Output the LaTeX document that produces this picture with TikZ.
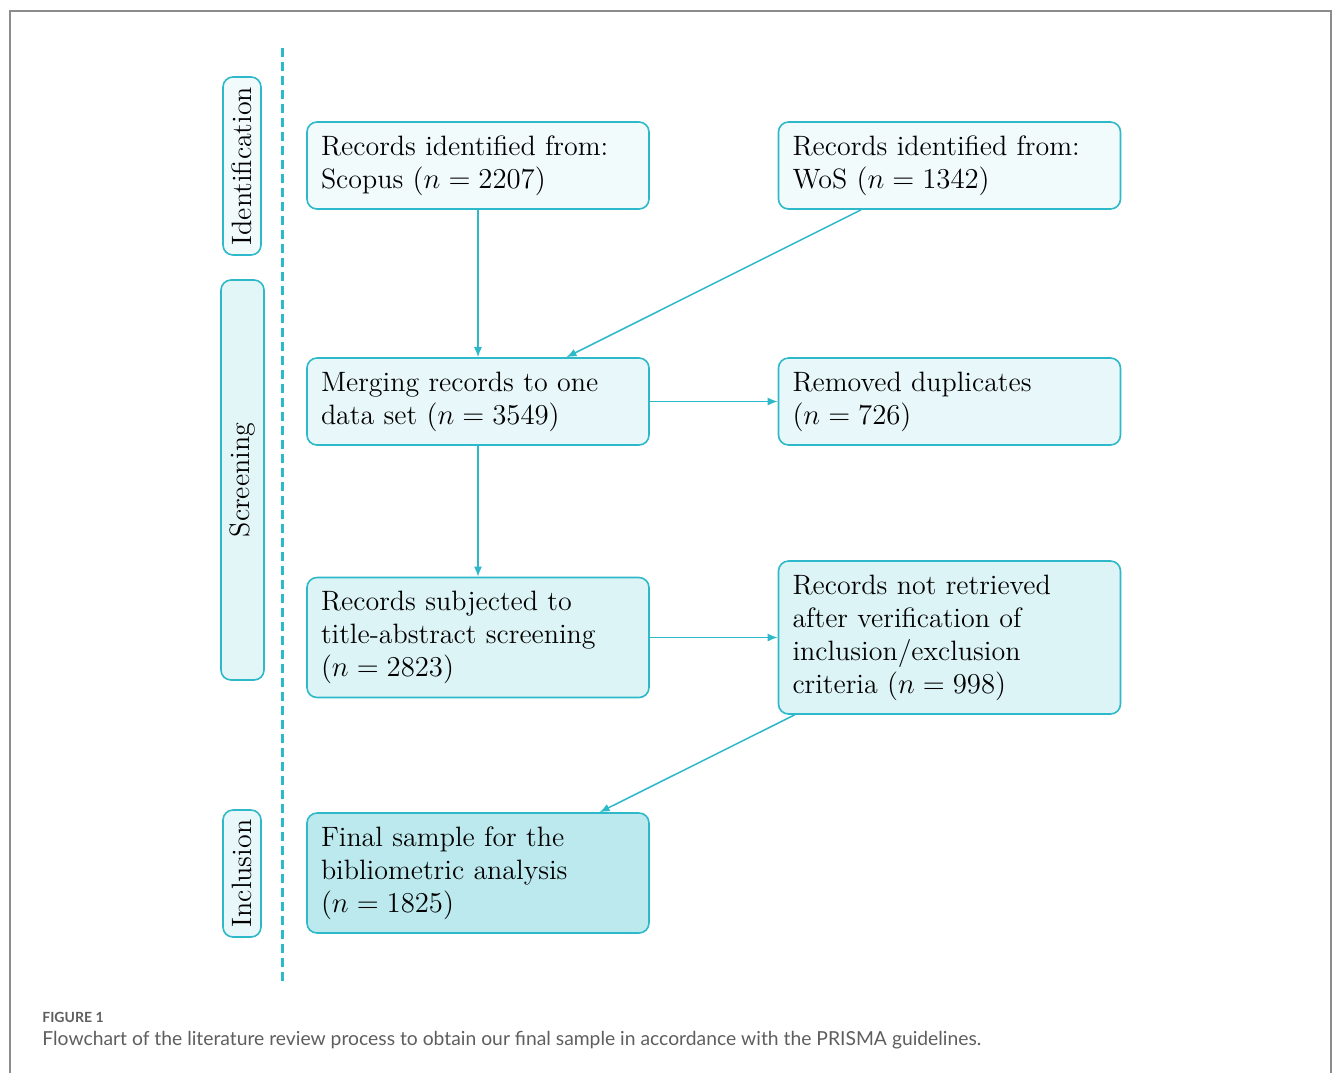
\documentclass[tikz,border=0pt]{standalone}
\usepackage{amsmath}
\usepackage{fontspec}
\usepackage{tikz}
\usetikzlibrary{arrows.meta, positioning, calc}
\newfontfamily\captionfont{Lato}
\definecolor{prismacyan}{HTML}{2DB9C9}
\definecolor{framegrey}{HTML}{8C8C8C}
\definecolor{captiongrey}{HTML}{5E5E5E}

\begin{document}
\begin{tikzpicture}[x=0.5pt, y=-0.5pt,
    boxtext/.style={font=\fontsize{14}{16.5}\selectfont},
    stagebox/.style={boxtext, draw=prismacyan, line width=0.8pt, rounded corners=5pt,
                     align=left, text width=157pt, inner xsep=7pt, inner ysep=0pt,
                     minimum height=#1},
    phasebox/.style={boxtext, draw=prismacyan, line width=0.8pt, rounded corners=5pt,
                     rotate=90, inner sep=0pt, minimum height=19pt, minimum width=#1},
    flow/.style={draw=prismacyan, line width=0.75pt, -{Latex[length=5pt, width=4pt]}}]
    \useasboundingbox (0,0) rectangle (1333,1073);
    % Frame
    \draw[framegrey, line width=1pt] (10,1073) -- (10,11) -- (1331,11) -- (1331,1073);
    % Phases
    \node[phasebox=89pt, fill=prismacyan!6] (ident) at (242,166) {Identification};
    \node[phasebox=200pt, fill=prismacyan!14, minimum height=21.5pt] (screen) at (242.5,480) {Screening};
    \node[phasebox=63.5pt, fill=prismacyan!11] (incl) at (242,873.5) {Inclusion};
    \draw[prismacyan, line width=1.5pt, dash pattern=on 4.5pt off 2.5pt] (282,48) -- (282,985);
    % Identification
    \node[stagebox=43.5pt, fill=prismacyan!6] (scopus) at (478,165.5)
         {Records identified from:\\ Scopus $(n = 2207)$};
    \node[stagebox=43.5pt, fill=prismacyan!6] (wos) at (949.5,165.5)
         {Records identified from:\\ WoS $(n = 1342)$};
    % Screening
    \node[stagebox=43.5pt, fill=prismacyan!11] (merged) at (478,401.5)
         {Merging records to one\\ data set $(n = 3549)$};
    \node[stagebox=43.5pt, fill=prismacyan!11] (duplicates) at (949.5,401.5)
         {Removed duplicates\\ $(n = 726)$};
    \node[stagebox=60pt, fill=prismacyan!16] (screened) at (478,637.5)
         {Records subjected to\\ title-abstract screening\\ $(n = 2823)$};
    \node[stagebox=76.5pt, fill=prismacyan!16] (excluded) at (949.5,637.5)
         {Records not retrieved\\ after verification of\\ inclusion/exclusion\\ criteria $(n = 998)$};
    % Inclusion
    \node[stagebox=60pt, fill=prismacyan!32] (final) at (478,873)
         {Final sample for the\\ bibliometric analysis\\ $(n = 1825)$};
    % Connectors
    \draw[flow] (scopus) -- (merged);
    \draw[flow] (wos) -- (merged);
    \draw[flow] (merged) -- (duplicates);
    \draw[flow] (merged) -- (screened);
    \draw[flow] (screened) -- (excluded);
    \draw[flow] (excluded) -- (final);
    % Caption
    \node[anchor=base west, inner sep=0pt, text=captiongrey,
          font=\captionfont\bfseries\fontsize{7}{8}\selectfont] (figlabel) at (42,1022) {FIGURE 1};
    \node[anchor=base west, inner sep=0pt, text=captiongrey,
          font=\captionfont\fontsize{9.65}{11}\selectfont] (figcaption) at (42,1045)
         {Flowchart of the literature review process to obtain our final sample in accordance with the PRISMA guidelines.};
\end{tikzpicture}
\end{document}
